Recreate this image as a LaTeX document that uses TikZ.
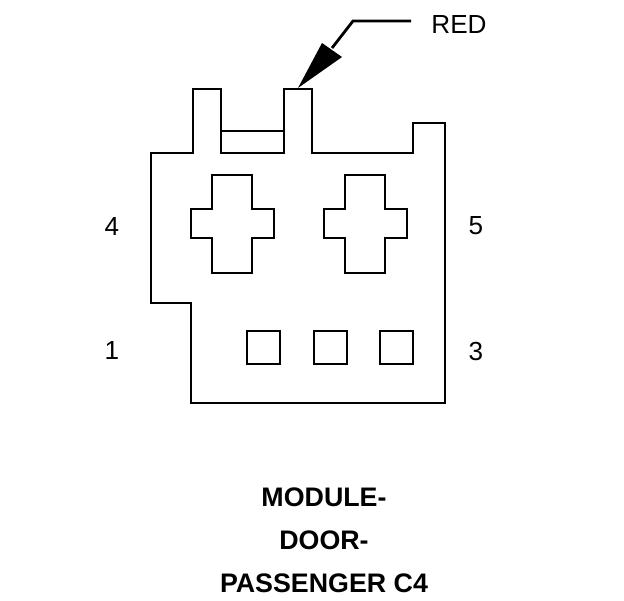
\documentclass[tikz,border=0pt]{standalone}
\usepackage{fontspec}
\setmainfont{Liberation Sans}
\usetikzlibrary{calc}
\tikzset{
    outline/.style = {draw, line width=2.1pt, line join=miter},
    lbl/.style = {font=\fontsize{19.6}{22}\selectfont},
    title/.style = {font=\fontsize{20.1}{23}\selectfont\bfseries}
}
\def\crosshole{%
    -- +(40,0) -- +(40,34) -- +(62,34) -- +(62,63) -- +(40,63) -- +(40,98)
    -- +(0,98) -- +(0,63) -- +(-21,63) -- +(-21,34) -- +(0,34) -- cycle
}
\begin{document}
\begin{tikzpicture}[x=0.75pt, y=-0.75pt]
        \useasboundingbox (0,0) rectangle (624,600);
        % connector body
        \draw [outline] (151,153) -- (193,153) -- (193,89) -- (221,89) -- (221,153) -- (284,153) -- (284,89)
            -- (312,89) -- (312,153) -- (413,153) -- (413,123) -- (445,123) -- (445,403) -- (191,403)
            -- (191,303) -- (151,303) -- cycle;
        \draw [outline] (221,131) -- (284,131);
        \foreach \a in {212,345}{
            \draw [outline] (\a,175) \crosshole;
        }
        \foreach \a in {247,314,380}{
            \draw [outline] (\a,331) rectangle +(33,33);
        }
        % leader to wire colour
        \coordinate (leadend) at (411,21);
        \coordinate (leadbend) at (353,21);
        \coordinate (leadtip) at (298,88);
        \draw [line width=2.1pt] (leadend) -- (leadbend) -- (332,48);
        \fill (leadtip) -- (322,43) -- (342,57) -- cycle;
        \node [lbl] (red) at (459,25) {RED};
        \node [lbl] (pinfour) at (112,227) {4};
        \node [lbl] (pinfive) at (476,226) {5};
        \node [lbl] (pinone) at (112,351) {1};
        \node [lbl] (pinthree) at (476,351) {3};
        \node [title] (module) at (324,497) {MODULE-};
        \node [title] (door) at (324,540) {DOOR-};
        \node [title] (passenger) at (324,583) {PASSENGER C4};
\end{tikzpicture}
\end{document}
